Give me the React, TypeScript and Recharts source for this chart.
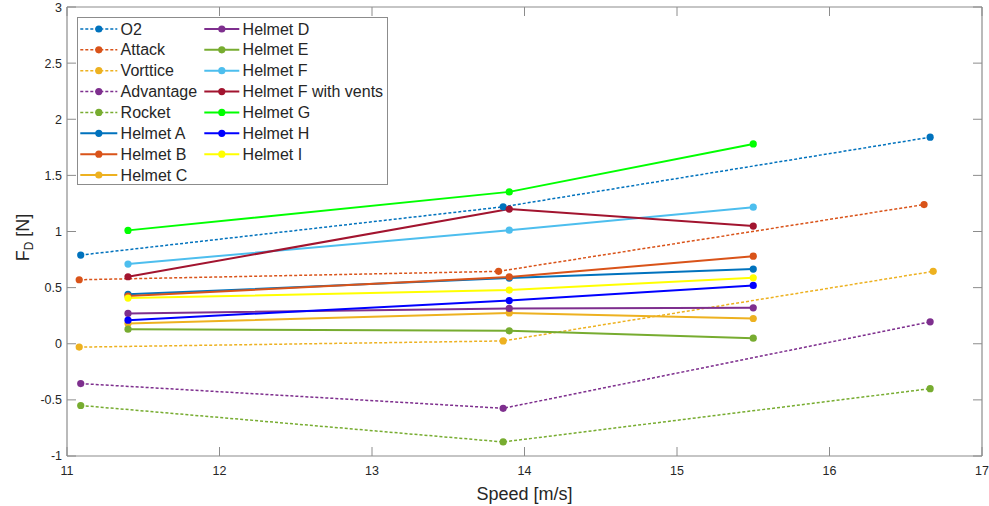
import React from 'react';
import { LineChart, Line, XAxis, YAxis, Legend } from 'recharts';

// Speeds (m/s) at which each helmet was measured
const helmetSpeeds = [11.4, 13.9, 15.5];
const o2Speeds = [11.09, 13.86, 16.66];
const attackSpeeds = [11.08, 13.83, 16.62];
const vortticeSpeeds = [11.08, 13.86, 16.68];
const advantageSpeeds = [11.09, 13.86, 16.66];
const rocketSpeeds = [11.09, 13.86, 16.66];

// Drag force F_D (N)
const o2Drag = [0.79, 1.22, 1.84];
const attackDrag = [0.57, 0.645, 1.24];
const vortticeDrag = [-0.03, 0.025, 0.645];
const advantageDrag = [-0.355, -0.575, 0.195];
const rocketDrag = [-0.55, -0.875, -0.4];
const helmetADrag = [0.44, 0.585, 0.665];
const helmetBDrag = [0.425, 0.595, 0.78];
const helmetCDrag = [0.18, 0.275, 0.225];
const helmetDDrag = [0.27, 0.315, 0.32];
const helmetEDrag = [0.13, 0.115, 0.05];
const helmetFDrag = [0.71, 1.012, 1.217];
const helmetFVentsDrag = [0.597, 1.2, 1.048];
const helmetGDrag = [1.01, 1.353, 1.78];
const helmetHDrag = [0.21, 0.385, 0.52];
const helmetIDrag = [0.407, 0.478, 0.587];

const xTicks = [11, 12, 13, 14, 15, 16, 17];
const yTicks = [-1, -0.5, 0, 0.5, 1, 1.5, 2, 2.5, 3];

const FONT = '"Liberation Sans", Arial, Helvetica, sans-serif';
const AXIS_COLOR = '#8c8c8c';
const TEXT_COLOR = '#262626';

type Series = {
  name: string;
  color: string;
  dotted: boolean;
  speeds: number[];
  drag: number[];
};

const series: Series[] = [
  { name: 'O2', color: '#0072BD', dotted: true, speeds: o2Speeds, drag: o2Drag },
  { name: 'Attack', color: '#D95319', dotted: true, speeds: attackSpeeds, drag: attackDrag },
  { name: 'Vorttice', color: '#EDB120', dotted: true, speeds: vortticeSpeeds, drag: vortticeDrag },
  { name: 'Advantage', color: '#7E2F8E', dotted: true, speeds: advantageSpeeds, drag: advantageDrag },
  { name: 'Rocket', color: '#77AC30', dotted: true, speeds: rocketSpeeds, drag: rocketDrag },
  { name: 'Helmet A', color: '#0072BD', dotted: false, speeds: helmetSpeeds, drag: helmetADrag },
  { name: 'Helmet B', color: '#D95319', dotted: false, speeds: helmetSpeeds, drag: helmetBDrag },
  { name: 'Helmet C', color: '#EDB120', dotted: false, speeds: helmetSpeeds, drag: helmetCDrag },
  { name: 'Helmet D', color: '#7E2F8E', dotted: false, speeds: helmetSpeeds, drag: helmetDDrag },
  { name: 'Helmet E', color: '#77AC30', dotted: false, speeds: helmetSpeeds, drag: helmetEDrag },
  { name: 'Helmet F', color: '#4DBEEE', dotted: false, speeds: helmetSpeeds, drag: helmetFDrag },
  { name: 'Helmet F with vents', color: '#A2142F', dotted: false, speeds: helmetSpeeds, drag: helmetFVentsDrag },
  { name: 'Helmet G', color: '#00FF00', dotted: false, speeds: helmetSpeeds, drag: helmetGDrag },
  { name: 'Helmet H', color: '#0000FF', dotted: false, speeds: helmetSpeeds, drag: helmetHDrag },
  { name: 'Helmet I', color: '#FFFF00', dotted: false, speeds: helmetSpeeds, drag: helmetIDrag },
];

const DOT_DASH = '3 2';
const DOT_R = 3.6;

const makeDot = (color: string) => (p: any) => (
  <circle key={`dot-${p.index}`} cx={p.cx} cy={p.cy} r={DOT_R} fill={color} stroke="none" />
);

// Two-column legend box (8 rows in the first column, the rest in the second)
const LEGEND_W = 311;
const LEGEND_H = 168;
const ROWS = 8;
const ROW_H = 20.86;

const renderLegend = (props: any) => {
  const payload: any[] = props.payload || [];
  const entries = series.map((s) => {
    const match = payload.find((p) => p.value === s.name);
    return { name: s.name, color: match?.color ?? s.color, dotted: s.dotted };
  });
  return (
    <svg width={LEGEND_W} height={LEGEND_H} style={{ display: 'block' }}>
      <rect x={0.5} y={0.5} width={LEGEND_W - 1} height={LEGEND_H - 1} fill="#fff" stroke={AXIS_COLOR} strokeWidth={1} />
      {entries.map((e, i) => {
        const col = i < ROWS ? 0 : 1;
        const row = i < ROWS ? i : i - ROWS;
        const y = 12 + row * ROW_H;
        const x0 = col === 0 ? 3.3 : 127.3;
        const x1 = col === 0 ? 40.3 : 162.3;
        const cx = (x0 + x1) / 2;
        return (
          <g key={e.name}>
            <line x1={x0} y1={y} x2={x1} y2={y} stroke={e.color} strokeWidth={e.dotted ? 1.5 : 2} strokeDasharray={e.dotted ? DOT_DASH : undefined} />
            <circle cx={cx} cy={y} r={DOT_R} fill={e.color} />
            <text x={x1 + 3.3} y={y + 5.6} fontSize={16} fontFamily={FONT} fill={TEXT_COLOR}>{e.name}</text>
          </g>
        );
      })}
    </svg>
  );
};

const YTitle = (props: any) => {
  const vb = props.viewBox || { x: 0, y: 7, width: 67, height: 449 };
  const cy = vb.y + vb.height / 2 + 6;
  const bx = 29;
  return (
    <text x={bx} y={cy} transform={`rotate(-90, ${bx}, ${cy})`} textAnchor="middle" fontFamily={FONT} fontSize={18} fill={TEXT_COLOR}>
      F<tspan fontSize={12} dy={4}>D</tspan><tspan dy={-4}> [N]</tspan>
    </text>
  );
};

const tickStyle = { fontSize: 12.5, fontFamily: FONT, fill: TEXT_COLOR };
const blank = () => '';

export default function App() {
  return (
    <div style={{ position: 'absolute', left: 0, top: 0, width: 989, height: 506, background: '#fff' }}>
      <LineChart width={989} height={506} margin={{ top: 6, right: 6, bottom: 0, left: 0 }}>
        <XAxis
          xAxisId="bottom"
          type="number"
          dataKey="x"
          orientation="bottom"
          domain={[11, 17]}
          ticks={xTicks}
          allowDataOverflow
          height={50}
          tickSize={-9}
          tickMargin={19}
          tick={tickStyle}
          stroke={AXIS_COLOR}
          axisLine={{ stroke: AXIS_COLOR, strokeWidth: 1.2 }}
          tickLine={{ stroke: AXIS_COLOR }}
          label={{ value: 'Speed [m/s]', position: 'insideBottom', offset: 6, fontSize: 18, fontFamily: FONT, fill: TEXT_COLOR }}
        />
        <XAxis
          xAxisId="top"
          type="number"
          dataKey="x"
          orientation="top"
          domain={[11, 17]}
          ticks={xTicks}
          allowDataOverflow
          height={1}
          tickSize={-9}
          tickFormatter={blank}
          stroke={AXIS_COLOR}
          axisLine={{ stroke: AXIS_COLOR, strokeWidth: 1.2 }}
          tickLine={{ stroke: AXIS_COLOR }}
        />
        <YAxis
          yAxisId="left"
          type="number"
          orientation="left"
          domain={[-1, 3]}
          ticks={yTicks}
          allowDataOverflow
          width={67}
          tickSize={-9}
          tickMargin={14}
          tick={tickStyle}
          stroke={AXIS_COLOR}
          axisLine={{ stroke: AXIS_COLOR, strokeWidth: 1.2 }}
          tickLine={{ stroke: AXIS_COLOR }}
          label={{ content: (p: any) => <YTitle {...p} /> }}
        />
        <YAxis
          yAxisId="right"
          type="number"
          orientation="right"
          domain={[-1, 3]}
          ticks={yTicks}
          allowDataOverflow
          width={1}
          tickSize={-9}
          tickFormatter={blank}
          stroke={AXIS_COLOR}
          axisLine={{ stroke: AXIS_COLOR, strokeWidth: 1.2 }}
          tickLine={{ stroke: AXIS_COLOR }}
        />
        {series.map((s) => (
          <Line
            key={s.name}
            name={s.name}
            xAxisId="bottom"
            yAxisId="left"
            data={s.speeds.map((x, i) => ({ x, y: s.drag[i] }))}
            dataKey="y"
            type="linear"
            stroke={s.color}
            strokeWidth={s.dotted ? 1.5 : 2}
            strokeDasharray={s.dotted ? DOT_DASH : undefined}
            dot={makeDot(s.color)}
            activeDot={false}
            isAnimationActive={false}
          />
        ))}
        <Legend
          layout="vertical"
          align="center"
          verticalAlign="middle"
          content={renderLegend}
          wrapperStyle={{ position: 'absolute', left: 77, top: 17, width: LEGEND_W, height: LEGEND_H, margin: 0, padding: 0 }}
        />
      </LineChart>
    </div>
  );
}
